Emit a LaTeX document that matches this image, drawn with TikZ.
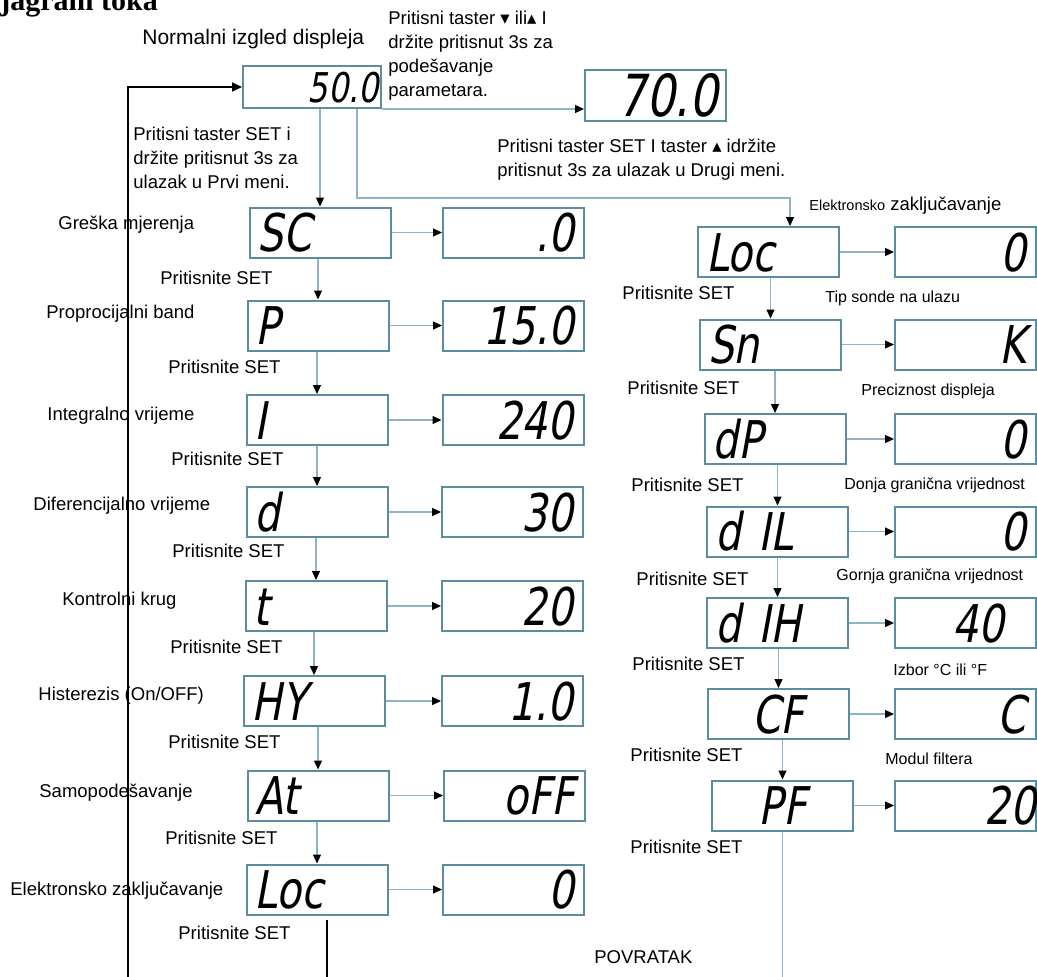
\documentclass[tikz,border=0pt]{standalone}
\usepackage{fontspec}
\setmainfont{Liberation Sans}
\newfontfamily\titlefont{Liberation Serif}
\newfontfamily\symfont{DejaVu Sans}
\newfontfamily\segfont{DejaVu Sans}[FakeStretch=0.78, FakeSlant=0.18]
\usepackage{tikz}
\usetikzlibrary{positioning, arrows.meta}
\definecolor{boxblue}{RGB}{92,140,160}
\definecolor{linkblue}{RGB}{140,180,200}

\begin{document}
\begin{tikzpicture}[x=0.5pt, y=-0.5pt,
  disp/.style={draw=boxblue, line width=1pt, minimum width=70.5pt, minimum height=25pt,
    inner xsep=4pt, inner ysep=0pt, text width=62.5pt, text height=19pt, text depth=0pt,
    font=\segfont\fontsize{26}{26}\selectfont},
  menu/.style={disp, align=left},
  val/.style={disp, align=right, inner xsep=5pt, text width=60.5pt},
  lbl/.style={anchor=west, inner sep=0pt, font=\fontsize{9.25}{12}\selectfont},
  note/.style={anchor=west, inner sep=0pt, font=\fontsize{8}{10}\selectfont},
  link/.style={draw=linkblue, line width=0.6pt},
  flow/.style={link, -{Triangle[length=4.5pt, width=4pt, color=black]}},
  back/.style={draw=black, line width=0.8pt}
]
\useasboundingbox (0,0) rectangle (1037,976);
\fill[white] (0,0) rectangle (1037,976);

\node[anchor=base west, inner sep=0pt, font=\titlefont\bfseries\fontsize{15}{15}\selectfont] (title) at (-30,10) {Dijagram toka};

% normal display
\node[disp, align=right, minimum width=69pt, minimum height=21pt, text width=67pt, inner xsep=1pt,
  text height=15pt, font=\segfont\fontsize{20.5}{20.5}\selectfont] (v50) at (312,87) {50.0};
\node[disp, align=right, minimum height=25.5pt, text width=62.5pt, text height=21pt,
  font=\segfont\fontsize{29}{29}\selectfont] (v70) at (655.5,95.5) {70.0};

\node[lbl, font=\fontsize{10.5}{12}\selectfont] (normal) at (142,39) {Normalni izgled displeja};
\node[lbl, align=left] (adjust) at (388,56) {Pritisni taster {\symfont▾} ili{\symfont▴} I\\držite pritisnut 3s za\\podešavanje\\parametara.};
\node[lbl, align=left] (first) at (133,158) {Pritisni taster SET i\\držite pritisnut 3s za\\ulazak u Prvi meni.};
\node[lbl, align=left] (second) at (497,160) {Pritisni taster SET I taster {\symfont▴} idržite\\pritisnut 3s za ulazak u Drugi meni.};

% first menu
\node[menu] (sc) at (320,232.5) {SC};
\node[menu] (p) at (318,325.5) {P};
\node[menu] (i) at (317,420) {I};
\node[menu] (d) at (317,512) {d};
\node[menu] (t) at (316,606) {t};
\node[menu] (hy) at (314,701) {HY};
\node[menu] (at) at (318,795.5) {At};
\node[menu] (loc) at (317,889.5) {Loc};

\node[val] (scv) at (513.5,232.5) {.0};
\node[val] (pv) at (513.5,325.5) {15.0};
\node[val] (iv) at (513,420) {240};
\node[val] (dv) at (512.5,512) {30};
\node[val] (tv) at (512.5,606) {20};
\node[val] (hyv) at (512.5,701) {1.0};
\node[val] (atv) at (514.5,795.5) {oFF};
\node[val] (locv) at (513.5,889.5) {0};

\node[lbl] (l1) at (58,225) {Greška mjerenja};
\node[lbl] (s1) at (160,278) {Pritisnite SET};
\node[lbl] (l2) at (46,314) {Proprocijalni band};
\node[lbl] (s2) at (168,367) {Pritisnite SET};
\node[lbl] (l3) at (47,416) {Integralno vrijeme};
\node[lbl] (s3) at (171,459) {Pritisnite SET};
\node[lbl] (l4) at (33,506) {Diferencijalno vrijeme};
\node[lbl] (s4) at (172,551) {Pritisnite SET};
\node[lbl] (l5) at (62,601) {Kontrolni krug};
\node[lbl] (s5) at (170,647) {Pritisnite SET};
\node[lbl] (l6) at (38,696) {Histerezis (On/OFF)};
\node[lbl] (s6) at (168,742) {Pritisnite SET};
\node[lbl] (l7) at (39,793) {Samopodešavanje};
\node[lbl] (s7) at (165,838) {Pritisnite SET};
\node[lbl] (l8) at (10,891) {Elektronsko zaključavanje};
\node[lbl] (s8) at (178,933) {Pritisnite SET};
\node[lbl] (ret) at (594,957) {POVRATAK};

% second menu
\node[menu] (loc2) at (768.5,252) {Loc};
\node[menu] (sn) at (770.5,344.5) {Sn};
\node[menu] (dp) at (775,439) {dP};
\node[menu] (dil) at (777.5,531.5) {d IL};
\node[menu] (dih) at (777.5,623) {d IH};
\node[disp, align=center] (cf) at (778.5,714) {CF};
\node[disp, align=center] (pf) at (782.5,805.5) {PF};

\node[val] (loc2v) at (965.5,252) {0};
\node[val] (snv) at (965.5,344.5) {K};
\node[val] (dpv) at (965.5,439) {0};
\node[val] (dilv) at (965.5,531.5) {0};
\node[val] (dihv) at (965.5,623) {40\rule{11pt}{0pt}};
\node[val] (cfv) at (965.5,714) {C};
\node[val, inner xsep=0pt, text width=70.5pt] (pfv) at (965.5,805.5) {20};

\node[lbl] (lock2) at (809,206) {{\fontsize{7.25}{9}\selectfont Elektronsko} zaključavanje};
\node[lbl] (r1) at (622,293) {Pritisnite SET};
\node[lbl] (r2) at (627,388) {Pritisnite SET};
\node[lbl] (r3) at (631,485) {Pritisnite SET};
\node[lbl] (r4) at (636,579) {Pritisnite SET};
\node[lbl] (r5) at (632,664) {Pritisnite SET};
\node[lbl] (r6) at (630,755) {Pritisnite SET};
\node[lbl] (r7) at (630,847) {Pritisnite SET};
\node[note] (n1) at (825,298) {Tip sonde na ulazu};
\node[note] (n2) at (861,391) {Preciznost displeja};
\node[note] (n3) at (844,485) {Donja granična vrijednost};
\node[note] (n4) at (836,576) {Gornja granična vrijednost};
\node[note] (n5) at (893,670) {Izbor °C ili °F};
\node[note] (n6) at (885,759) {Modul filtera};

% connectors
\coordinate (split) at (790,198);
\coordinate (loopend) at (128,985);
\coordinate (retend) at (782.5,985);

\draw[flow] (v50.south east) -- (v50.south east -| v70.west);
\draw[flow] (v50.south -| sc.north) -- (sc.north);
\draw[flow] ([xshift=22.5pt]v50.south) |- (split) -- (split |- loc2.north);

\foreach \a/\b in {sc/p, p/i, i/d, d/t, t/hy, hy/at, at/loc, loc2/sn, sn/dp, dp/dil, dil/dih, dih/cf, cf/pf}
  \draw[flow] (\a.south -| \b.north) -- (\b.north);
\foreach \a in {sc, p, i, d, t, hy, at, loc, loc2, sn, dp, dil, dih, cf, pf}
  \draw[flow] (\a.east) -- (\a.east -| \a v.west);

\draw[link] (pf.south) -- (retend);
\draw[back, -{Triangle[length=5pt, width=4.5pt]}] (loopend) |- (v50.west);
\draw[back] ([xshift=5pt, yshift=-2pt]loc.south) -- ++(0,80);
\end{tikzpicture}
\end{document}
